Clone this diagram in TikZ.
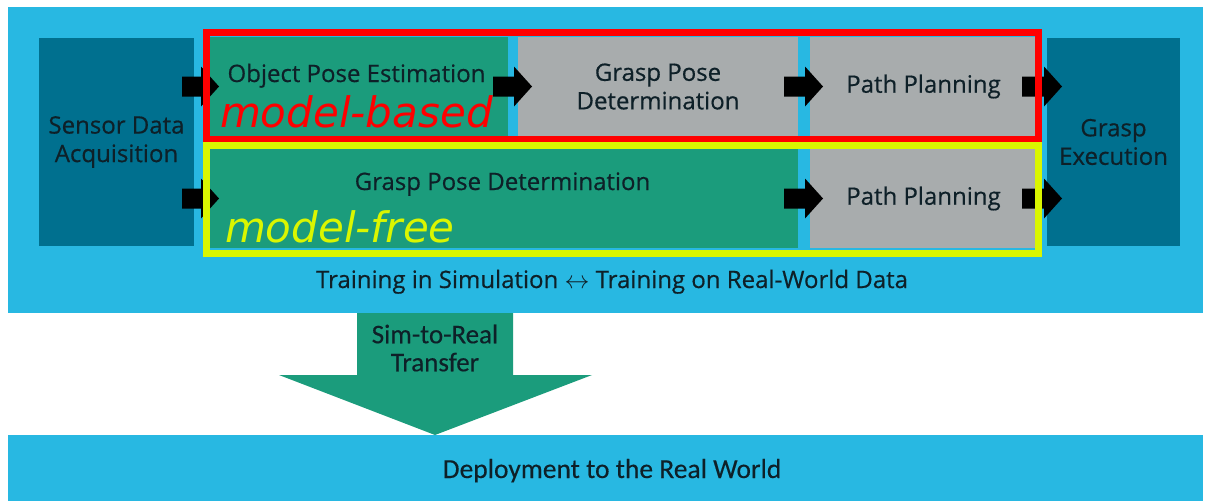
\documentclass[tikz,border=0pt]{standalone}
\usepackage{fontspec}
\setmainfont{Open Sans}[FakeBold=0.5]
\newfontfamily\labf{DejaVu Sans Oblique}
\newfontfamily\calf{Carlito}[FakeBold=0.3]
\usetikzlibrary{calc}
\definecolor{bgblue}{RGB}{40,184,226}
\definecolor{dblue}{RGB}{0,112,143}
\definecolor{sgreen}{RGB}{27,156,124}
\definecolor{lgray}{RGB}{168,172,173}
\definecolor{txt}{RGB}{14,32,40}
\definecolor{redline}{RGB}{255,0,0}
\definecolor{yelline}{RGB}{218,246,0}
\newcommand\blkarrow[2]{\fill[black] ($(#1)+(0,-10)$) -- ($(#2)+(-18,-10)$) -- ($(#2)+(-18,-20)$) -- (#2) -- ($(#2)+(-18,20)$) -- ($(#2)+(-18,10)$) -- ($(#1)+(0,10)$) -- cycle;}
\begin{document}
\begin{tikzpicture}[x=1pt,y=-1pt,
  panel/.style={fill=bgblue, inner sep=0pt, outer sep=0pt},
  stage/.style={inner sep=0pt, outer sep=0pt, align=center, text=txt, font=\fontsize{24}{28.5}\selectfont},
  plain/.style={inner sep=0pt, outer sep=0pt, align=center, text=txt, font=\fontsize{24}{28.5}\selectfont},
  frame/.style={line width=6.5pt},
  biglabel/.style={inner sep=0pt, outer sep=0pt, anchor=base west, font=\labf\fontsize{42}{42}\selectfont}]
\useasboundingbox (0,0) rectangle (1206,501);
\fill[white] (0,0) rectangle (1206,501);
% panels
\node[panel, minimum width=1195, minimum height=306] (toppanel) at (605.5,160) {};
\node[panel, minimum width=1195, minimum height=66] (botpanel) at (605.5,468) {};
% stage boxes
\node[stage, fill=dblue, minimum width=155, minimum height=208] (sensor) at (116.5,142) {Sensor Data\\Acquisition};
\node[stage, fill=sgreen, minimum width=303, minimum height=99] (ope) at (356.5,86.5) {};
\node[stage, fill=lgray, minimum width=280, minimum height=99] (gpd) at (658,86.5) {Grasp Pose\\Determination};
\node[stage, fill=lgray, minimum width=227, minimum height=99] (pp1) at (923.5,86.5) {Path Planning};
\node[stage, fill=sgreen, minimum width=593, minimum height=99] (gpd2) at (501.5,198.5) {};
\node[stage, fill=lgray, minimum width=227, minimum height=99] (pp2) at (923.5,198.5) {Path Planning};
\node[stage, fill=dblue, minimum width=133, minimum height=208] (exec) at (1113.5,142) {Grasp\\Execution};
\node[plain, anchor=base] (opetxt) at (356.5,82) {Object Pose Estimation};
\node[plain, anchor=base] (gpd2txt) at (502.5,190) {Grasp Pose Determination};
% block arrows
\coordinate (s1) at ($(sensor.east |- ope.west)+(-12,0)$);
\coordinate (t1) at ($(ope.west)+(14,0)$);
\coordinate (s2) at ($(ope.east)+(-15,0)$);
\coordinate (t2) at ($(gpd.west)+(14,0)$);
\coordinate (s3) at ($(gpd.east)+(-14,0)$);
\coordinate (t3) at ($(pp1.west)+(13,0)$);
\coordinate (s4) at ($(pp1.east)+(-15,0)$);
\coordinate (t4) at ($(exec.west |- pp1.east)+(15,0)$);
\coordinate (s5) at ($(sensor.east |- gpd2.west)+(-12,0)$);
\coordinate (t5) at ($(gpd2.west)+(14,0)$);
\coordinate (s6) at ($(gpd2.east)+(-14,0)$);
\coordinate (t6) at ($(pp2.west)+(13,0)$);
\coordinate (s7) at ($(pp2.east)+(-15,0)$);
\coordinate (t7) at ($(exec.west |- pp2.east)+(15,0)$);
\blkarrow{s1}{t1}
\blkarrow{s2}{t2}
\blkarrow{s3}{t3}
\blkarrow{s4}{t4}
\blkarrow{s5}{t5}
\blkarrow{s6}{t6}
\blkarrow{s7}{t7}
% frames
\draw[frame, redline] (206.5,32.5) rectangle (1038.5,139);
\draw[frame, yelline] (206.5,145.5) rectangle (1038.5,253.5);
\node[biglabel, text=redline] (mb) at (220,127) {model-based};
\node[biglabel, text=yelline] (mf) at (225,242) {model-free};
\node[plain, anchor=base] (train) at (612,288) {Training in Simulation $\leftrightarrow$ Training on Real-World Data};
% transfer arrow
\coordinate (ttop) at (435,313);
\fill[sgreen] (357,313) -- (513,313) -- (513,375) -- (592,375) -- (botpanel.north -| ttop) -- (279,375) -- (357,375) -- cycle;
\node[plain, font=\calf\fontsize{27}{28}\selectfont] (transfer) at (435,348) {Sim-to-Real\\Transfer};
\node[plain, anchor=base, font=\calf\fontsize{27.5}{28}\selectfont] (deploy) at (612,478) {Deployment to the Real World};
\end{tikzpicture}
\end{document}
